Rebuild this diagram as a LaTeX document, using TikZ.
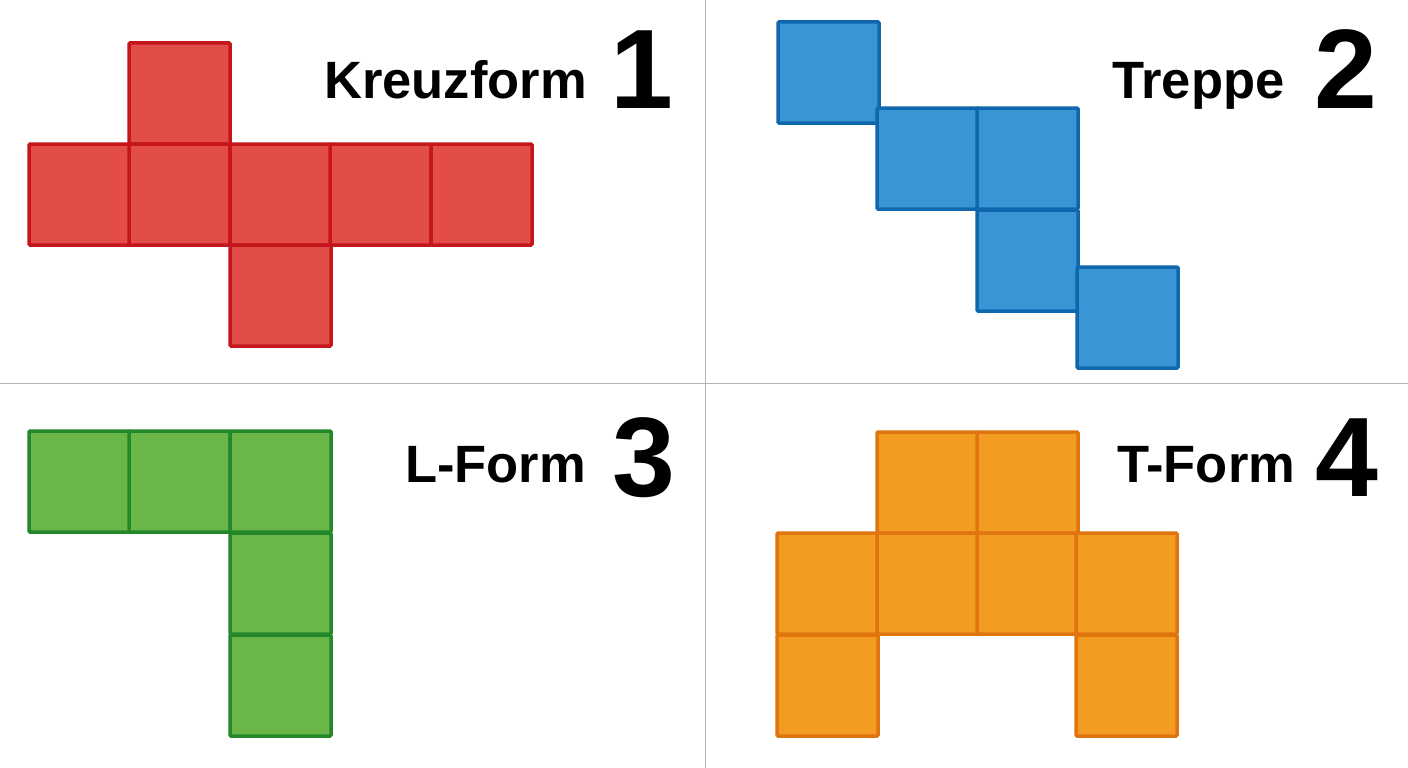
\documentclass[tikz,border=0pt]{standalone}
\usepackage{fontspec}
\setmainfont{Liberation Sans}
\usetikzlibrary{positioning}

\definecolor{kreuzfill}{RGB}{226,77,71}
\definecolor{kreuzline}{RGB}{196,22,28}
\definecolor{treppefill}{RGB}{58,149,213}
\definecolor{treppeline}{RGB}{16,103,173}
\definecolor{lfill}{RGB}{106,182,72}
\definecolor{lline}{RGB}{35,136,42}
\definecolor{tfill}{RGB}{243,156,34}
\definecolor{tline}{RGB}{224,117,16}
\definecolor{divider}{RGB}{180,180,180}

\tikzset{
  cell/.style={draw, line width=3.5pt, rounded corners=1pt, inner sep=0pt,
               outer sep=0pt, minimum size=101pt, anchor=north west},
  kreuzcell/.style={cell, fill=kreuzfill, draw=kreuzline},
  treppecell/.style={cell, fill=treppefill, draw=treppeline},
  lcell/.style={cell, fill=lfill, draw=lline},
  tcell/.style={cell, fill=tfill, draw=tline},
  word/.style={font=\bfseries\fontsize{52.5}{60}\selectfont, inner sep=0pt, anchor=base west},
  digit/.style={font=\bfseries\fontsize{113}{120}\selectfont, inner sep=0pt, anchor=base west},
}

\begin{document}
\begin{tikzpicture}[x=1pt,y=-1pt]
  \useasboundingbox [fill=white] (0,0) rectangle (1408,768);

  % dividers
  \draw [divider, line width=1pt] (705,0) -- (705,768);
  \draw [divider, line width=1pt] (0,383) -- (1408,383);

  % 1: Kreuzform
  \node (k0) at (129,43) [kreuzcell] {};
  \foreach \x [count=\i] in {29,129,230,330,431}
    \node (k\i) at (\x,144) [kreuzcell] {};
  \node (k6) at (230,245) [kreuzcell] {};
  \node (kreuz) at (324,99) [word] {Kreuzform};
  \node (num1) at (610,108) [digit] {1};

  % 2: Treppe
  \node (t1) at (778,22) [treppecell] {};
  \node (t2) at (877,108) [treppecell] {};
  \node (t3) at (977,108) [treppecell] {};
  \node (t4) at (977,210) [treppecell] {};
  \node (t5) at (1077,267) [treppecell] {};
  \node (treppe) at (1112,99) [word] {Treppe};
  \node (num2) at (1314,108) [digit] {2};

  % 3: L-Form
  \foreach \x [count=\i] in {29,129,230}
    \node (l\i) at (\x,431) [lcell] {};
  \node (l4) at (230,533) [lcell] {};
  \node (l5) at (230,635) [lcell] {};
  \node (lform) at (405,482) [word] {L-Form};
  \node (num3) at (612,496) [digit] {3};

  % 4: T-Form
  \node (f1) at (877,432) [tcell] {};
  \node (f2) at (977,432) [tcell] {};
  \foreach \x [count=\i from 3] in {777,877,977,1076}
    \node (f\i) at (\x,533) [tcell] {};
  \node (f7) at (777,635) [tcell] {};
  \node (f8) at (1076,635) [tcell] {};
  \node (tform) at (1117,482) [word] {T-Form};
  \node (num4) at (1315,496) [digit] {4};
\end{tikzpicture}
\end{document}
